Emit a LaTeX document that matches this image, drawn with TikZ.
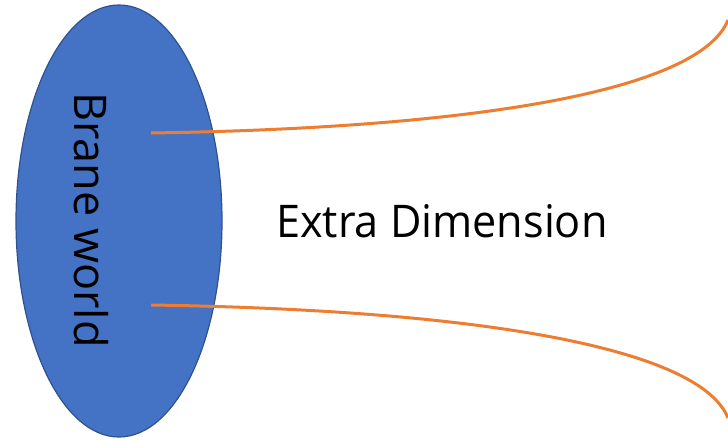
\documentclass[tikz,border=0pt]{standalone}
\usepackage{fontspec}
\setmainfont{Open Sans}
\usepackage{tikz}
\usetikzlibrary{positioning, shapes.geometric}

\definecolor{braneblue}{HTML}{4472C4}
\definecolor{braneedge}{HTML}{2F528F}
\definecolor{dimorange}{HTML}{ED7D31}

\begin{document}
\begin{tikzpicture}[
    x=1pt, y=-1pt,
    brane/.style={ellipse, draw=braneedge, line width=1.2pt, fill=braneblue, minimum width=206pt, minimum height=432pt, inner sep=0pt},
    lbl/.style={font=\fontsize{45}{50}\selectfont, inner sep=0pt},
    dim/.style={dimorange, line width=3pt},
]
\useasboundingbox (0,0) rectangle (728,439);

% Brane
\node[brane] (world) at (119,221) {};
\node[lbl, rotate=-90] (worldlabel) at (91,220) {Brane world};

% Extra dimension
\node[lbl, anchor=base west, xscale=0.96] (extra) at (276,237) {Extra Dimension};

% Curves
\coordinate (topstart) at (151,133);
\coordinate (topend) at (728,20);
\coordinate (botstart) at (151,305);
\coordinate (botend) at (728,418);
\draw[dim] (topstart) .. controls (480,128) and (700,90) .. (topend);
\draw[dim] (botstart) .. controls (480,310) and (700,348) .. (botend);

\end{tikzpicture}
\end{document}
